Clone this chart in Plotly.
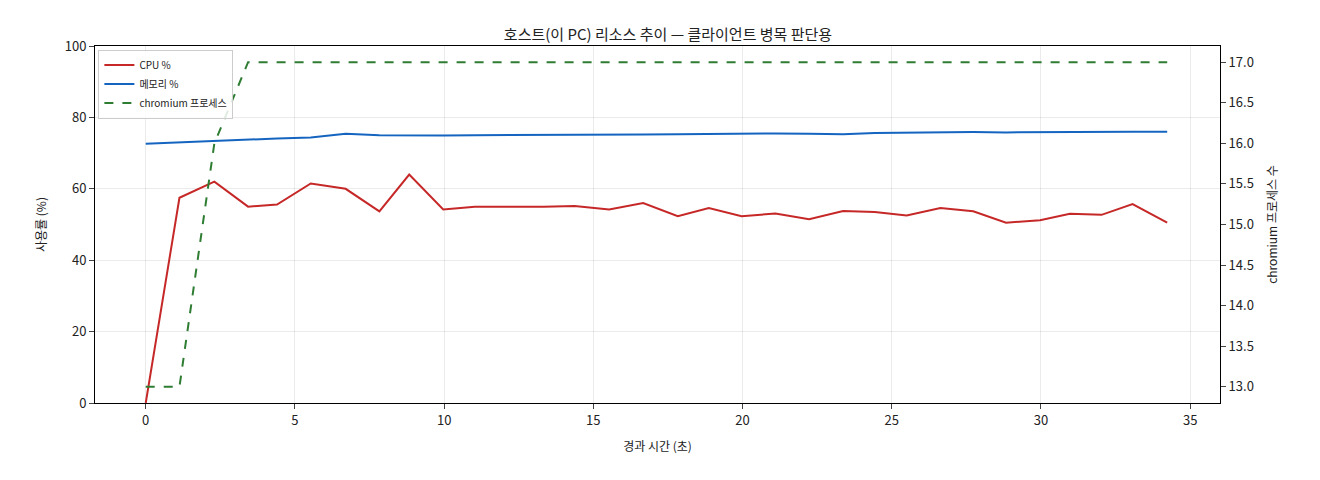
import plotly.graph_objects as go

t = [0, 1.13, 2.3, 3.43, 4.4, 5.53, 6.7, 7.83, 8.83, 9.97, 11.03, 12.17, 13.33, 14.37, 15.53, 16.67,
     17.83, 18.87, 19.97, 21.1, 22.23, 23.37, 24.43, 25.5, 26.63, 27.73, 28.83, 29.97, 30.97, 32.03, 33.07, 34.23]
cpu = [0, 57.5, 62, 55, 55.6, 61.5, 60, 53.7, 64, 54.2, 55, 54.9, 55, 55.2, 54.2, 56,
       52.3, 54.6, 52.3, 53.1, 51.5, 53.8, 53.5, 52.5, 54.6, 53.7, 50.5, 51.2, 53, 52.7, 55.7, 50.5]
mem = [72.6, 73, 73.5, 73.9, 74.1, 74.4, 75.4, 75, 74.9, 74.9, 75, 75, 75.1, 75.1, 75, 75.2,
       75.3, 75.4, 75.3, 75.5, 75.4, 75.3, 75.6, 75.7, 75.8, 75.9, 75.8, 75.9, 75.9, 75.9, 76, 76]
procs = [13, 13, 16, 17] + [17] * 28

font = "Noto Sans CJK KR"
fig = go.Figure()
fig.add_trace(go.Scatter(x=t, y=cpu, name="CPU %", mode="lines", line=dict(color="#c62828", width=2)))
fig.add_trace(go.Scatter(x=t, y=mem, name="메모리 %", mode="lines", line=dict(color="#1565c0", width=2)))
fig.add_trace(go.Scatter(x=t, y=procs, name="chromium 프로세스", mode="lines", yaxis="y2",
                         line=dict(color="#2e7d32", width=2, dash="dash")))

fig.update_layout(
    width=1320, height=480,
    paper_bgcolor="white", plot_bgcolor="white",
    font=dict(family=font, size=13, color="#222"),
    margin=dict(l=87, r=108, t=38, b=85),
    title=dict(text="호스트(이 PC) 리소스 추이 — 클라이언트 병목 판단용", x=0.5, xanchor="center",
               y=0.955, font=dict(size=15)),
    xaxis=dict(range=[-1.7, 36], tickvals=[0, 5, 10, 15, 20, 25, 30, 35],
               title=dict(text="경과 시간 (초)", font=dict(size=12)),
               showline=True, linecolor="black", mirror=True, ticks="outside", showgrid=True,
               gridcolor="rgba(0,0,0,0.08)", zeroline=False, automargin=False),
    yaxis=dict(range=[0, 100], dtick=20, title=dict(text="사용률 (%)", font=dict(size=12)),
               showline=True, linecolor="black", automargin=False,
               ticks="outside", showgrid=True, gridcolor="rgba(0,0,0,0.08)", zeroline=False),
    yaxis2=dict(overlaying="y", side="right", range=[12.8, 17.2], dtick=0.5, tickformat=".1f",
                title=dict(text="chromium 프로세스 수", font=dict(size=12)), showline=True,
                linecolor="black", ticks="outside", automargin=False,
                showgrid=False, zeroline=False),
    legend=dict(x=0.003, y=0.99, xanchor="left", yanchor="top", bgcolor="rgba(255,255,255,0.85)",
                bordercolor="#ccc", borderwidth=1, font=dict(size=10)),
)
fig.write_html("out.html")
